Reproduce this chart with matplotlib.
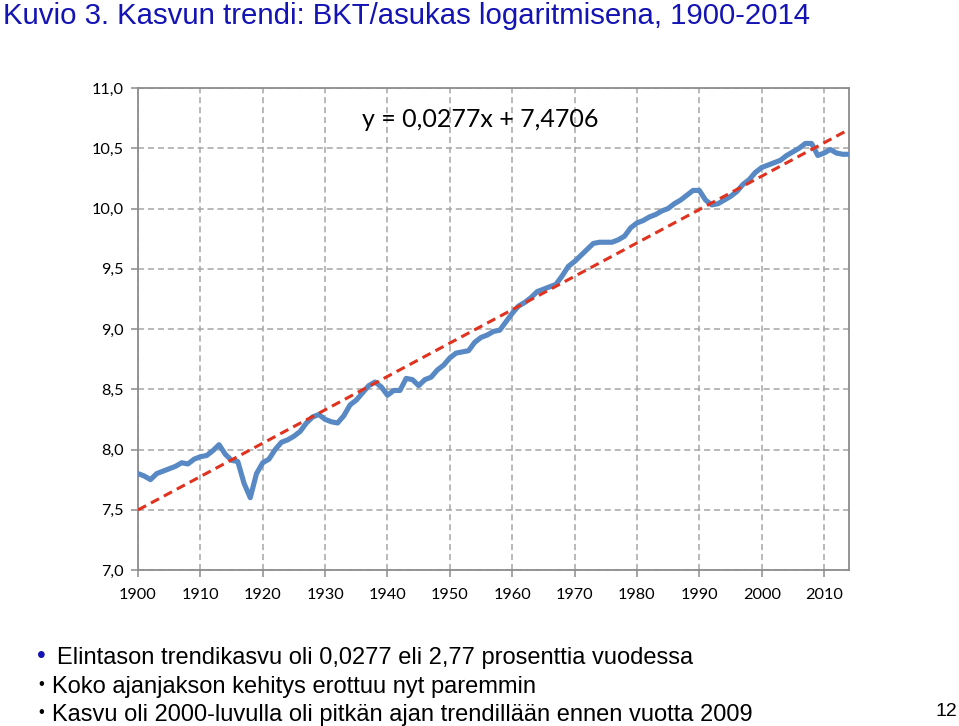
import numpy as np
import matplotlib
matplotlib.use("Agg")
from matplotlib import pyplot as plt


# ################ Data ################ #
START_YEAR = 1900
gdp_log = [
    7.80, 7.78, 7.75, 7.80, 7.82, 7.84, 7.86, 7.89, 7.88, 7.92,   # 1900-1909
    7.94, 7.95, 7.99, 8.04, 7.96, 7.91, 7.90, 7.72, 7.60, 7.80,   # 1910-1919
    7.89, 7.92, 8.00, 8.06, 8.08, 8.11, 8.15, 8.22, 8.27, 8.29,   # 1920-1929
    8.25, 8.23, 8.22, 8.28, 8.37, 8.41, 8.47, 8.53, 8.56, 8.52,   # 1930-1939
    8.45, 8.49, 8.49, 8.59, 8.58, 8.53, 8.58, 8.60, 8.66, 8.70,   # 1940-1949
    8.76, 8.80, 8.81, 8.82, 8.89, 8.93, 8.95, 8.98, 8.99, 9.06,   # 1950-1959
    9.13, 9.19, 9.22, 9.26, 9.31, 9.33, 9.35, 9.37, 9.44, 9.52,   # 1960-1969
    9.56, 9.61, 9.66, 9.71, 9.72, 9.72, 9.72, 9.74, 9.77, 9.84,   # 1970-1979
    9.88, 9.90, 9.93, 9.95, 9.98, 10.00, 10.04, 10.07, 10.11, 10.15,  # 1980-1989
    10.15, 10.07, 10.03, 10.04, 10.07, 10.10, 10.14, 10.20, 10.24, 10.30,  # 1990-1999
    10.34, 10.36, 10.38, 10.40, 10.44, 10.47, 10.50, 10.54, 10.54, 10.44,  # 2000-2009
    10.46, 10.49, 10.46, 10.45, 10.45,                             # 2010-2014
]
years = np.arange(START_YEAR, START_YEAR + len(gdp_log))

# Excel trendline: y = 0,0277x + 7,4706 (x = 1 for 1900)
TREND_SLOPE = 0.0277
TREND_INTERCEPT = 7.4706

y_ticks = [7.0, 7.5, 8.0, 8.5, 9.0, 9.5, 10.0, 10.5, 11.0]
x_ticks = list(range(1900, 2011, 10))

title = "Kuvio 3. Kasvun trendi: BKT/asukas logaritmisena, 1900-2014"
bullets = [
    "Elintason trendikasvu oli 0,0277 eli 2,77 prosenttia vuodessa",
    "Koko ajanjakson kehitys erottuu nyt paremmin",
    "Kasvu oli 2000-luvulla oli pitkän ajan trendillään ennen vuotta 2009",
]
page_number = "12"


# ################ Plot ################ #
W, H = 959, 726
fig = plt.figure(figsize=(W / 100, H / 100), dpi=100)
ax = fig.add_axes([138 / W, 1 - 570 / H, (849 - 138) / W, (570 - 88) / H])

trend = TREND_SLOPE * (years - START_YEAR + 1) + TREND_INTERCEPT
ax.plot(years, gdp_log, color="#5889c4", lw=3.7, solid_joinstyle="round",
        solid_capstyle="round", zorder=3)
ax.plot(years, trend, color="#e0321e", lw=2.2, linestyle=(0, (3, 1.8)), zorder=4)

ax.set_xlim(1900, 2014)
ax.set_ylim(7.0, 11.0)
ax.set_xticks(x_ticks)
ax.set_yticks(y_ticks)
ax.set_yticklabels([f"{v:.1f}".replace(".", ",") for v in y_ticks])
ax.set_xticklabels([str(x) for x in x_ticks])

ax.grid(True, color="#a6a6a6", lw=1.1, linestyle=(0, (4, 2.5)))
ax.set_axisbelow(True)
for side in ["left", "right", "top", "bottom"]:
    ax.spines[side].set_color("#8c8c8c")
    ax.spines[side].set_linewidth(1.3)
ax.tick_params(axis="both", colors="#8c8c8c", length=5, width=1.1,
               labelcolor="black", labelsize=11.7)
ax.tick_params(axis="y", pad=5)
ax.tick_params(axis="x", pad=8)
for lab in ax.get_xticklabels() + ax.get_yticklabels():
    lab.set_family(["Lato", "DejaVu Sans"])

ax.text(0.315, 0.934, "y = 0,0277x + 7,4706", transform=ax.transAxes,
        fontsize=18, va="center", ha="left", family=["Lato", "DejaVu Sans"])

# title and slide text
fig.text(3 / W, 1 - 24 / H, title, color="#1414b4", fontsize=21.2,
         family=["Liberation Sans", "DejaVu Sans"], va="baseline", ha="left")

narrow = ["Liberation Sans Narrow", "Liberation Sans", "DejaVu Sans"]
baselines = [664, 693, 721]
for i, (txt, b) in enumerate(zip(bullets, baselines)):
    x0 = 57 if i == 0 else 52
    fig.text(x0 / W, 1 - b / H, txt, fontsize=17, family=narrow,
             va="baseline", ha="left")
    if i == 0:
        fig.text(41 / W, 1 - 656 / H, "•", color="#1414b4", fontsize=18,
                 family=narrow, va="center", ha="center")
    else:
        fig.text(41 / W, 1 - (b - 8) / H, "•", color="black", fontsize=12,
                 family=narrow, va="center", ha="center")

fig.text(957 / W, 1 - 716 / H, page_number, fontsize=14, family=narrow,
         va="baseline", ha="right")

fig.savefig("out.png", dpi=100)
